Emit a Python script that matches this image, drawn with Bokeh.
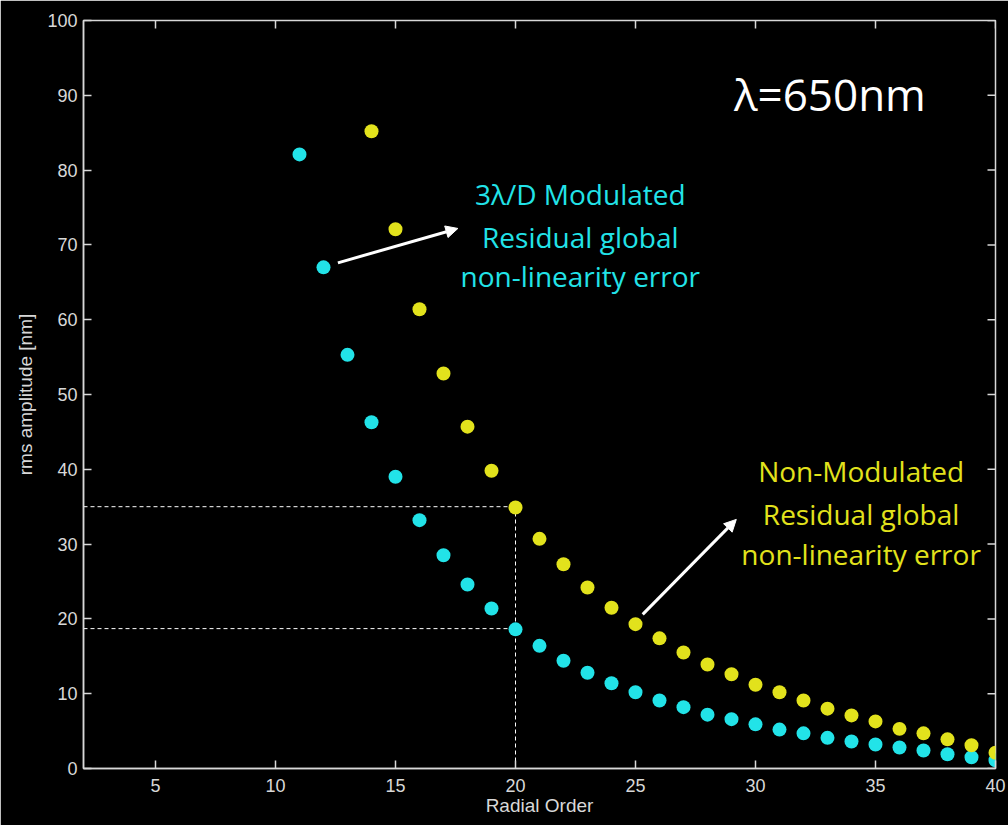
import math
from bokeh.plotting import figure
from bokeh.models import Range1d, Arrow, NormalHead, FixedTicker, ColumnDataSource
from bokeh.embed import file_html
from bokeh.resources import INLINE
from bokeh.core.properties import value

# Data
cyan_order = list(range(11, 41))
cyan_rms = [82.1, 67.0, 55.3, 46.3, 39.0, 33.2, 28.5, 24.6, 21.4, 18.6,
            16.4, 14.4, 12.8, 11.4, 10.2, 9.1, 8.2, 7.2, 6.6, 5.9,
            5.2, 4.7, 4.1, 3.6, 3.2, 2.8, 2.4, 1.9, 1.5, 1.1]
yellow_order = list(range(14, 41))
yellow_rms = [85.2, 72.1, 61.4, 52.8, 45.7, 39.8, 34.9, 30.7, 27.3, 24.2,
              21.5, 19.3, 17.4, 15.5, 13.9, 12.6, 11.2, 10.2, 9.1, 8.0,
              7.1, 6.3, 5.3, 4.7, 3.9, 3.1, 2.1]
x_ticks = [5, 10, 15, 20, 25, 30, 35, 40]
y_ticks = [0, 10, 20, 30, 40, 50, 60, 70, 80, 90, 100]
x_min, x_max = 2, 40
y_min, y_max = 0, 100
ref_order = 20
ref_yellow = 35.0
ref_cyan = 18.7

CYAN = "#22e3e8"
YELLOW = "#e2e21c"
AXC = "#d8d8d8"

p = figure(width=1008, height=825, output_backend="svg", toolbar_location=None,
           x_range=Range1d(x_min, x_max), y_range=Range1d(y_min, y_max),
           min_border_left=83, min_border_right=13, min_border_top=20, min_border_bottom=57)
p.background_fill_color = "black"
p.border_fill_color = "black"
p.outline_line_color = AXC
p.outline_line_width = 1.5
p.grid.visible = False

for ax in (p.xaxis[0], p.yaxis[0]):
    ax.axis_line_color = AXC
    ax.axis_line_width = 1.5
    ax.major_tick_line_color = AXC
    ax.major_tick_line_width = 1.5
    ax.major_tick_in = 8
    ax.major_tick_out = 0
    ax.minor_tick_line_color = None
    ax.major_label_text_color = AXC
    ax.major_label_text_font = "Liberation Sans"
    ax.major_label_text_font_size = "18px"
    ax.axis_label_text_color = AXC
    ax.axis_label_text_font = "Liberation Sans"
    ax.axis_label_text_font_size = "19px"
    ax.axis_label_text_font_style = "normal"

p.xaxis[0].ticker = FixedTicker(ticks=x_ticks)
p.yaxis[0].ticker = FixedTicker(ticks=y_ticks)
p.xaxis[0].axis_label = "Radial Order"
p.yaxis[0].axis_label = "rms amplitude [nm]"
p.xaxis[0].axis_label_standoff = 0
p.yaxis[0].axis_label_standoff = 8
p.xaxis[0].major_label_standoff = 10
p.yaxis[0].major_label_standoff = 6

# inward ticks on the top and right edges (MATLAB-style box)
p.ray(x=[x_max] * len(y_ticks), y=y_ticks, length=8, length_units="screen",
      angle=math.pi, line_color=AXC, line_width=1.5)
p.ray(x=x_ticks, y=[y_max] * len(x_ticks), length=8, length_units="screen",
      angle=-math.pi / 2, line_color=AXC, line_width=1.5)

# dashed reference lines
src_h = ColumnDataSource(dict(x0=[x_min, x_min], x1=[ref_order, ref_order], y=[ref_yellow, ref_cyan]))
p.segment(x0="x0", y0="y", x1="x1", y1="y", source=src_h, line_color="white",
          line_dash="4 3", line_width=1)
p.segment(x0=[ref_order], y0=[y_min], x1=[ref_order], y1=[ref_yellow], line_color="white",
          line_dash="4 3", line_width=1)

p.scatter(cyan_order, cyan_rms, size=14, fill_color=CYAN, line_color=None)
p.scatter(yellow_order, yellow_rms, size=14, fill_color=YELLOW, line_color=None)

# arrows
p.add_layout(Arrow(end=NormalHead(size=12, fill_color="white", line_color="white"),
                   x_start=12.6, y_start=67.6, x_end=17.6, y_end=72.2,
                   line_color="white", line_width=3))
p.add_layout(Arrow(end=NormalHead(size=12, fill_color="white", line_color="white"),
                   x_start=25.3, y_start=20.6, x_end=29.2, y_end=33.3,
                   line_color="white", line_width=3))

# annotations
p.text(x=[22.7, 22.7, 22.7], y=[76.8, 71.1, 65.8],
       text=["3\u03bb/D Modulated", "Residual global", "non-linearity error"],
       text_color=CYAN, text_font=value("Open Sans"), text_font_size="28px",
       text_align="center", text_baseline="middle")
p.text(x=[34.4, 34.4, 34.4], y=[39.8, 34.0, 28.7],
       text=["Non-Modulated", "Residual global", "non-linearity error"],
       text_color=YELLOW, text_font=value("Open Sans"), text_font_size="28px",
       text_align="center", text_baseline="middle")
p.text(x=[33.1], y=[90.2], text=["\u03bb=650nm"], text_color="white",
       text_font=value("Open Sans"), text_font_size="44px",
       text_align="center", text_baseline="middle")

open("out.html", "w").write(file_html(p, INLINE))
